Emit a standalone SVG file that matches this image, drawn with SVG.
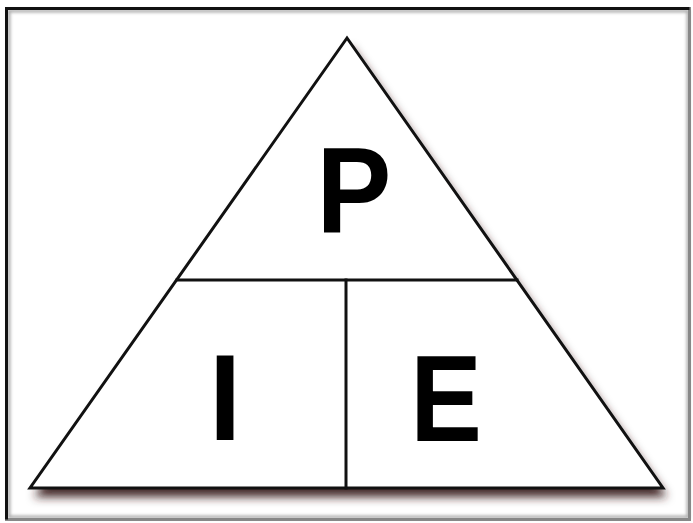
<svg xmlns="http://www.w3.org/2000/svg" width="693" height="523" viewBox="0 0 693 523">
<style>
.line{stroke:#111;stroke-width:3;fill:none;stroke-linecap:square}
.lbl{font-family:"Liberation Sans",Arial,sans-serif;font-weight:bold;font-size:122px;fill:#000;text-anchor:middle}
</style>
<defs>
<filter id="sh" x="-10%" y="-10%" width="130%" height="130%">
<feDropShadow dx="4" dy="9" stdDeviation="5" flood-color="#3a1c1c" flood-opacity="0.95"/>
</filter>
<filter id="blur"><feGaussianBlur stdDeviation="1.5"/></filter>
</defs>
<rect x="0" y="0" width="693" height="523" fill="#fff"/>
<g id="frame">
<rect x="9" y="11" width="679" height="506" fill="none" stroke="#aaa" stroke-width="3" filter="url(#blur)"/>
<rect x="6.5" y="8.5" width="683" height="511" fill="none" stroke="#888" stroke-width="3"/>
<path d="M6.5 519.5 V8.5 H689.5" fill="none" stroke="#111" stroke-width="3"/>
</g>
<g id="triangle">
<polygon points="347,38 30,488 663,488" fill="#fff" filter="url(#sh)"/>
<polygon points="347,38 30,488 663,488" class="line" stroke-linejoin="miter"/>
</g>
<g id="connectors">
<line class="line" x1="177" y1="280" x2="517" y2="280"/>
<line class="line" x1="346" y1="280" x2="346" y2="488"/>
</g>
<g id="P"><text class="lbl" transform="translate(354 233) scale(0.92 1)">P</text></g>
<g id="I"><text class="lbl" transform="translate(225 440) scale(0.95 1)">I</text></g>
<g id="E"><text class="lbl" transform="translate(446 441) scale(0.88 1)">E</text></g>
</svg>
